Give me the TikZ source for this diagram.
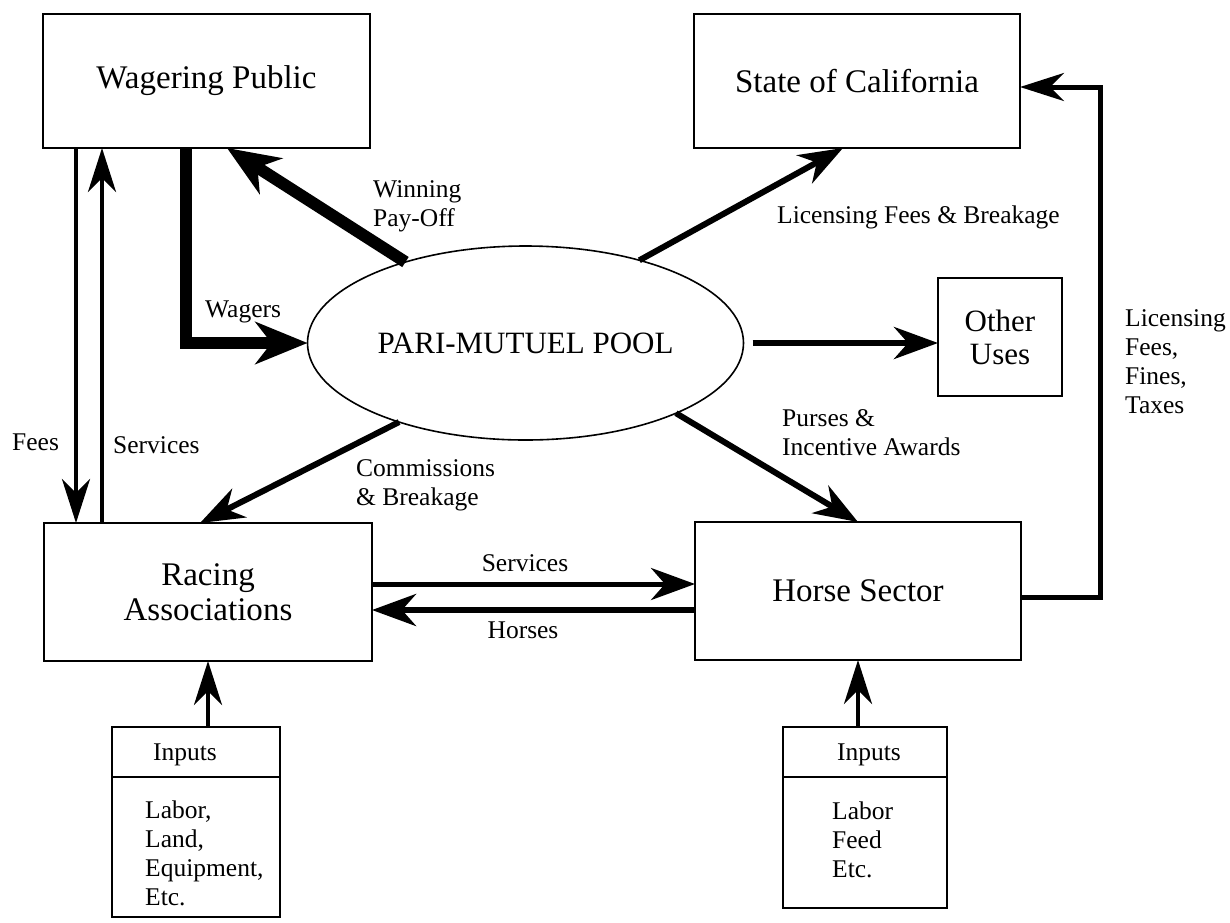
\documentclass[tikz,border=0pt]{standalone}
\usepackage{fontspec}
\setmainfont{Liberation Serif}
\usetikzlibrary{arrows.meta,shapes.geometric}
\begin{document}
\begin{tikzpicture}[x=1pt,y=-1pt,
  box/.style={draw, line width=1.6pt, inner sep=0pt, outer sep=0pt, align=center, font=\fontsize{33}{35}\selectfont},
  lab/.style={inner sep=0pt, align=left, anchor=west, font=\fontsize{25.5}{29}\selectfont},
  clab/.style={inner sep=0pt, align=center, font=\fontsize{25.5}{29}\selectfont},
  arr/.style={line width=6pt, -{Stealth[length=44pt,width=32pt,inset=14pt]}},
  thk/.style={line width=12pt, -{Stealth[length=52pt,width=42pt,inset=16pt]}},
  thn/.style={line width=4.5pt, -{Stealth[length=44pt,width=28pt,inset=14pt]}},
]
\fill[white] (0,0) rectangle (1230,922);
\useasboundingbox (0,0) rectangle (1230,922);

% boxes
\node[box, minimum width=327pt, minimum height=134pt] (wp) at (206.5,81) {Wagering Public};
\node[box, minimum width=326pt, minimum height=134pt] (sc) at (857,81) {State of California};
\node[box, shape=ellipse, minimum width=436pt, minimum height=194pt, font=\fontsize{31}{34}\selectfont] (pool) at (525.5,343) {PARI-MUTUEL POOL};
\node[box, minimum width=124pt, minimum height=118pt, font=\fontsize{31}{33}\selectfont] (ou) at (1000,337) {Other\\Uses};
\node[box, minimum width=328pt, minimum height=138pt] (ra) at (208,592) {Racing\\Associations};
\node[box, minimum width=326pt, minimum height=138pt] (hs) at (858,591) {Horse Sector};
\node[box, minimum width=168pt, minimum height=190pt] (in1) at (196,822) {};
\node[box, minimum width=164pt, minimum height=181pt] (in2) at (865,817.5) {};

% helper coordinates
\coordinate (xf) at (76,0);
\coordinate (xs) at (102,0);
\coordinate (xw) at (186,0);
\coordinate (xr) at (1100,0);
\coordinate (ysv) at (0,584);
\coordinate (yho) at (0,610);
\coordinate (yb) at (0,597);
\coordinate (yt) at (0,87);
\coordinate (ydiv) at (0,777);

% inputs contents
\draw[line width=1.6pt] (in1.west |- ydiv) -- (in1.east |- ydiv);
\draw[line width=2.2pt] (in2.west |- ydiv) -- (in2.east |- ydiv);
\node[clab] (in1h) at (185,755) {Inputs};
\node[lab] (in1b) at (145,853) {Labor,\\Land,\\Equipment,\\Etc.};
\node[clab] (in2h) at (869,755) {Inputs};
\node[lab] (in2b) at (832,840) {Labor\\Feed\\Etc.};

% connectors
\draw[thk] (pool.146) -- ([xshift=20.5pt]wp.south);
\draw[thk] (xw |- wp.south) |- (pool.west);
\draw[arr] (pool.36) -- ([xshift=-14pt]sc.south);
\draw[arr] (pool.212) -- ([xshift=-8pt]ra.north);
\draw[arr] (pool.335) -- (hs.north);
\draw[arr] ([xshift=9pt]pool.east) -- (pool.east -| ou.west);
\draw[thn] (xf |- wp.south) -- (xf |- ra.north);
\draw[thn] (xs |- ra.north) -- (xs |- wp.south);
\draw[arr, line width=5pt] (ra.east |- ysv) -- (hs.west |- ysv);
\draw[arr] (hs.west |- yho) -- (ra.east |- yho);
\draw[thn, line width=5pt] (hs.east |- yb) -- (xr |- yb) -- (xr |- yt) -- (sc.east |- yt);
\draw[thn] (ra.south |- in1.north) -- (ra.south);
\draw[thn] (hs.south |- in2.north) -- (hs.south);

% labels
\node[lab] (lwin) at (373,206) {Winning\\Pay-Off};
\node[lab] (lwag) at (205,312) {Wagers};
\node[lab] (llfb) at (777,217) {Licensing Fees \& Breakage};
\node[lab] (lfee) at (12,442) {Fees};
\node[lab] (lser) at (113,445) {Services};
\node[lab] (lcom) at (356,485) {Commissions\\\& Breakage};
\node[lab] (lpur) at (782,433) {Purses \&\\Incentive Awards};
\node[lab] (llic) at (1125,362) {Licensing\\Fees,\\Fines,\\Taxes};
\node[clab] (lsv2) at (525,563) {Services};
\node[clab] (lhor) at (523,630) {Horses};
\end{tikzpicture}
\end{document}
